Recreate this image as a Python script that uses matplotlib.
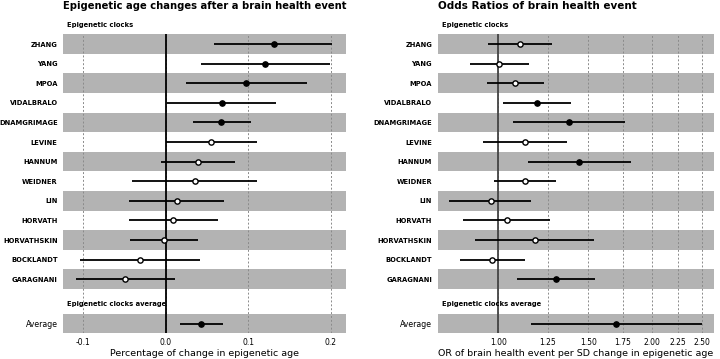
import matplotlib
matplotlib.use("Agg")
import matplotlib.pyplot as plt
from matplotlib.transforms import blended_transform_factory, offset_copy

clocks = ["ZHANG", "YANG", "MPOA", "VIDALBRALO", "DNAMGRIMAGE", "LEVINE", "HANNUM",
          "WEIDNER", "LIN", "HORVATH", "HORVATHSKIN", "BOCKLANDT", "GARAGNANI"]

# Left panel: percentage change in epigenetic age
pct_est = [0.131, 0.120, 0.0976, 0.0678, 0.0673, 0.0548, 0.0395,
           0.0351, 0.0133, 0.0092, -0.002, -0.031, -0.0489]
pct_lo = [0.0589, 0.0424, 0.0246, 0.001, 0.0327, 0.0004, -0.0057,
          -0.0404, -0.044, -0.045, -0.0428, -0.104, -0.1086]
pct_hi = [0.202, 0.199, 0.171, 0.1335, 0.1029, 0.110, 0.0843,
          0.110, 0.071, 0.0637, 0.0387, 0.0415, 0.0116]
pct_sig = [True, True, True, True, True, False, False,
           False, False, False, False, False, False]
pct_avg = [0.0427, 0.0173, 0.069, True]  # est, lo, hi, sig

# Right panel: odds ratios
or_est = [1.103, 1.0045, 1.080, 1.190, 1.375, 1.126, 1.438,
          1.126, 0.966, 1.0385, 1.178, 0.973, 1.297]
or_lo = [0.956, 0.880, 0.949, 1.020, 1.067, 0.932, 1.142,
         0.982, 0.802, 0.854, 0.902, 0.840, 1.086]
or_hi = [1.272, 1.147, 1.230, 1.389, 1.772, 1.363, 1.816,
         1.297, 1.159, 1.262, 1.539, 1.128, 1.544]
or_sig = [False, False, False, True, True, False, True,
          False, False, False, False, False, True]
or_avg = [1.701, 1.159, 2.50, True]

left_ticks = [-0.1, 0.0, 0.1, 0.2]
left_ticklabels = ["-0.1", "0.0", "0.1", "0.2"]
right_ticks = [1.00, 1.25, 1.50, 1.75, 2.00, 2.25, 2.50]
right_ticklabels = ["1.00", "1.25", "1.50", "1.75", "2.00", "2.25", "2.50"]

BAND = "#b3b3b3"
W, H = 7.2, 3.59
fig = plt.figure(figsize=(W, H), dpi=100)

avg_pos = len(clocks) - 1 + 2.26
ypos = list(range(len(clocks)))


def panel(ax, est, lo, hi, sig, avg, xlim, ticks, ticklabels, refx, refcolor,
          title, xlabel, title_size, logx=False):
    if logx:
        ax.set_xscale("log")
    ax.set_xlim(*xlim)
    ax.set_ylim(avg_pos + 0.5, -0.5)
    for i in ypos:
        if i % 2 == 0:
            ax.axhspan(i - 0.5, i + 0.5, color=BAND, lw=0, zorder=0)
    ax.axhspan(avg_pos - 0.5, avg_pos + 0.5, color=BAND, lw=0, zorder=0)
    for t in ticks:
        ax.axvline(t, color="#8a8a8a", lw=0.7, ls=(0, (2, 2)), zorder=1)
    ax.axvline(refx, color=refcolor, lw=1.3, zorder=2)
    ys = ypos + [avg_pos]
    es = list(est) + [avg[0]]
    ls = list(lo) + [avg[1]]
    hs = list(hi) + [avg[2]]
    ss = list(sig) + [avg[3]]
    for y, e, l, h, s in zip(ys, es, ls, hs, ss):
        ax.plot([l, h], [y, y], color="black", lw=1.3, zorder=3, solid_capstyle="butt")
        ax.plot([e], [y], marker="o", ms=3.8, mec="black", mew=1.0,
                mfc="black" if s else "white", zorder=4)
    ax.set_yticks(ys)
    ax.set_yticklabels(clocks + ["Average"], fontsize=4.9, fontweight="bold")
    ax.get_yticklabels()[-1].set_fontweight("normal")
    ax.get_yticklabels()[-1].set_fontsize(5.6)
    ax.set_xticks(ticks)
    ax.set_xticklabels(ticklabels, fontsize=5.5)
    ax.xaxis.set_minor_locator(matplotlib.ticker.NullLocator())
    ax.tick_params(length=0, pad=3.5)
    ax.tick_params(axis="y", pad=4)
    for sp in ax.spines.values():
        sp.set_visible(False)
    ax.set_xlabel(xlabel, fontsize=6.8, labelpad=1.5)
    tr = offset_copy(blended_transform_factory(ax.transAxes, ax.transData),
                     fig=fig, x=4, y=0, units="dots")
    ax.text(0, -0.97, "Epigenetic clocks", transform=tr, fontsize=4.9,
            fontweight="bold", va="center", ha="left", clip_on=False)
    ax.text(0, len(clocks) - 1 + 1.27, "Epigenetic clocks average", transform=tr,
            fontsize=4.9, fontweight="bold", va="center", ha="left", clip_on=False)
    ax.set_title(title, loc="left", fontsize=title_size, fontweight="bold", pad=18.5)


ax1 = fig.add_axes([63.3 / 720, 1 - 333.3 / 359, (345.7 - 63.3) / 720, (333.3 - 34.3) / 359])
panel(ax1, pct_est, pct_lo, pct_hi, pct_sig, pct_avg, (-0.124, 0.218),
      left_ticks, left_ticklabels, 0.0, "black",
      "Epigenetic age changes after a brain health event",
      "Percentage of change in epigenetic age", 7.2)

ax2 = fig.add_axes([437.7 / 720, 1 - 333.3 / 359, (714.3 - 437.7) / 720, (333.3 - 34.3) / 359])
panel(ax2, or_est, or_lo, or_hi, or_sig, or_avg, (0.761, 2.646),
      right_ticks, right_ticklabels, 1.0, "#444444",
      "Odds Ratios of brain health event",
      "OR of brain health event per SD change in epigenetic age", 7.5, logx=True)

fig.savefig("out.png", dpi=100)
